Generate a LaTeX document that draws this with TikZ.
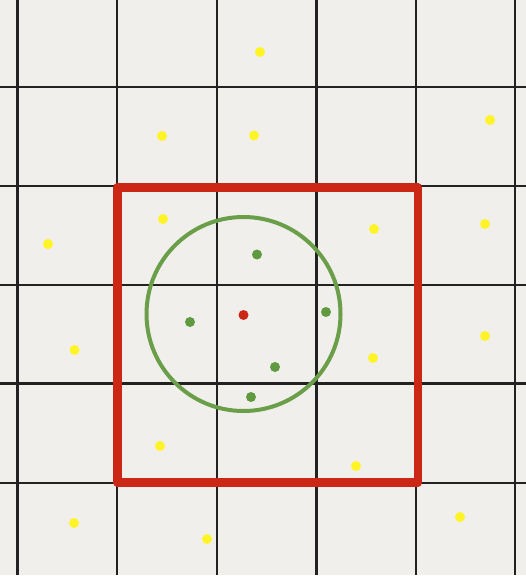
\documentclass[tikz,border=0pt]{standalone}
\usetikzlibrary{calc}
\definecolor{bg}{HTML}{F1EFEC}
\definecolor{gridc}{HTML}{222222}
\definecolor{sqred}{HTML}{CC2614}
\definecolor{circg}{HTML}{6A9E48}
\definecolor{dotg}{HTML}{5F9A40}
\definecolor{doty}{HTML}{FFF526}
\definecolor{dotr}{HTML}{CC2614}
\tikzset{
  gridline/.style={gridc, line width=2.1pt},
  ydot/.style={circle, fill=doty, inner sep=0pt, minimum size=10pt},
  gdot/.style={circle, fill=dotg, inner sep=0pt, minimum size=10pt},
  rdot/.style={circle, fill=dotr, inner sep=0pt, minimum size=10pt},
}
\begin{document}
\begin{tikzpicture}[x=1pt, y=-1pt]
\useasboundingbox (0,0) rectangle (526,580);
\fill[white] (0,0) rectangle (526,580);
\fill[bg] (0,0) rectangle (526,575);
% grid
\foreach \x in {17.5,117,217,316.5,416,515}
  \draw[gridline] (\x,0) -- (\x,575);
\foreach \y in {87,186,285,383.5,483}
  \draw[gridline] (0,\y) -- (526,\y);
% red square
\draw[sqred, line width=8.5pt, line join=round] (117.5,187.5) rectangle (418,482.5);
% green circle
\node[draw=circg, line width=4pt, circle, minimum size=194pt, inner sep=0pt] (c) at (243.5,314) {};
% red center
\node[rdot] (r) at (243.5,315) {};
% green dots
\node[gdot] (g1) at (257,254.5) {};
\node[gdot] (g2) at (190,322) {};
\node[gdot] (g3) at (326,312) {};
\node[gdot] (g4) at (275,367) {};
\node[gdot] (g5) at (251,397) {};
% yellow dots
\node[ydot] (y1) at (260,52) {};
\node[ydot] (y2) at (162,136) {};
\node[ydot] (y3) at (254,135.5) {};
\node[ydot] (y4) at (490,120) {};
\node[ydot] (y5) at (163,219) {};
\node[ydot] (y6) at (48,244) {};
\node[ydot] (y7) at (374,229) {};
\node[ydot] (y8) at (485,224) {};
\node[ydot] (y9) at (74.5,350) {};
\node[ydot] (y10) at (373,358) {};
\node[ydot] (y11) at (485,336) {};
\node[ydot] (y12) at (160,446) {};
\node[ydot] (y13) at (356,466) {};
\node[ydot] (y14) at (74,523) {};
\node[ydot] (y15) at (207,539) {};
\node[ydot] (y16) at (460,517) {};
\end{tikzpicture}
\end{document}
